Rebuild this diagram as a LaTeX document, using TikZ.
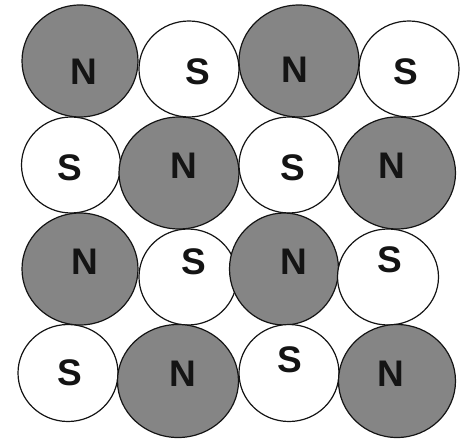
\documentclass[tikz,border=0pt]{standalone}
\usepackage{fontspec}
\setmainfont{Liberation Sans}
\usetikzlibrary{shapes.geometric}
\definecolor{ink}{HTML}{141414}
\definecolor{northgray}{HTML}{858585}
\tikzset{
  pole/.style={ellipse,draw=ink,line width=1.2pt,inner sep=0pt},
  poleN/.style={pole,fill=northgray},
  poleS/.style={pole,fill=white},
  tag/.style={inner sep=0pt,font=\fontsize{37}{37}\selectfont\bfseries,text=ink},
}
\begin{document}
\begin{tikzpicture}[x=1pt,y=-1pt]
  \useasboundingbox (0,0) rectangle (463,439);
  % row 1
  \node[poleN,minimum width=116pt,minimum height=112pt] (n1) at (80,61) {};
  \node[poleS,minimum width=100pt,minimum height=96pt] (s1) at (189,69) {};
  \node[poleN,minimum width=120pt,minimum height=112pt] (n2) at (299,61) {};
  \node[poleS,minimum width=100pt,minimum height=96pt] (s2) at (409,69) {};
  \node[tag] (n1t) at (84,72) {N};
  \node[tag] (s1t) at (198,72) {S};
  \node[tag] (n2t) at (295,70) {N};
  \node[tag] (s2t) at (406,72) {S};
  % row 2
  \node[poleS,minimum width=99pt,minimum height=96pt] (s3) at (71,165) {};
  \node[poleN,minimum width=120pt,minimum height=112pt] (n3) at (179,173) {};
  \node[poleS,minimum width=100pt,minimum height=96pt] (s4) at (289,165) {};
  \node[poleN,minimum width=117pt,minimum height=112pt] (n4) at (397,173) {};
  \node[tag] (s3t) at (70,168) {S};
  \node[tag] (n3t) at (184,166) {N};
  \node[tag] (s4t) at (293,168) {S};
  \node[tag] (n4t) at (392,166) {N};
  % row 3
  \node[poleN,minimum width=116pt,minimum height=112pt] (n5) at (80,269) {};
  \node[poleS,minimum width=98pt,minimum height=96pt] (s5) at (188,277) {};
  \node[poleN,minimum width=109pt,minimum height=112pt] (n6) at (284,269) {};
  \node[poleS,minimum width=101pt,minimum height=96pt] (s6) at (388,277) {};
  \node[tag] (n5t) at (85,262) {N};
  \node[tag] (s5t) at (194,262) {S};
  \node[tag] (n6t) at (294,262) {N};
  \node[tag] (s6t) at (390,260) {S};
  % row 4
  \node[poleS,minimum width=100pt,minimum height=97pt] (s7) at (68,373) {};
  \node[poleN,minimum width=121pt,minimum height=113pt] (n7) at (178,381) {};
  \node[poleS,minimum width=100pt,minimum height=97pt] (s8) at (289,373) {};
  \node[poleN,minimum width=117pt,minimum height=113pt] (n8) at (397,381) {};
  \node[tag] (s7t) at (70,373) {S};
  \node[tag] (n7t) at (183,374) {N};
  \node[tag] (s8t) at (290,360) {S};
  \node[tag] (n8t) at (391,374) {N};
\end{tikzpicture}
\end{document}
